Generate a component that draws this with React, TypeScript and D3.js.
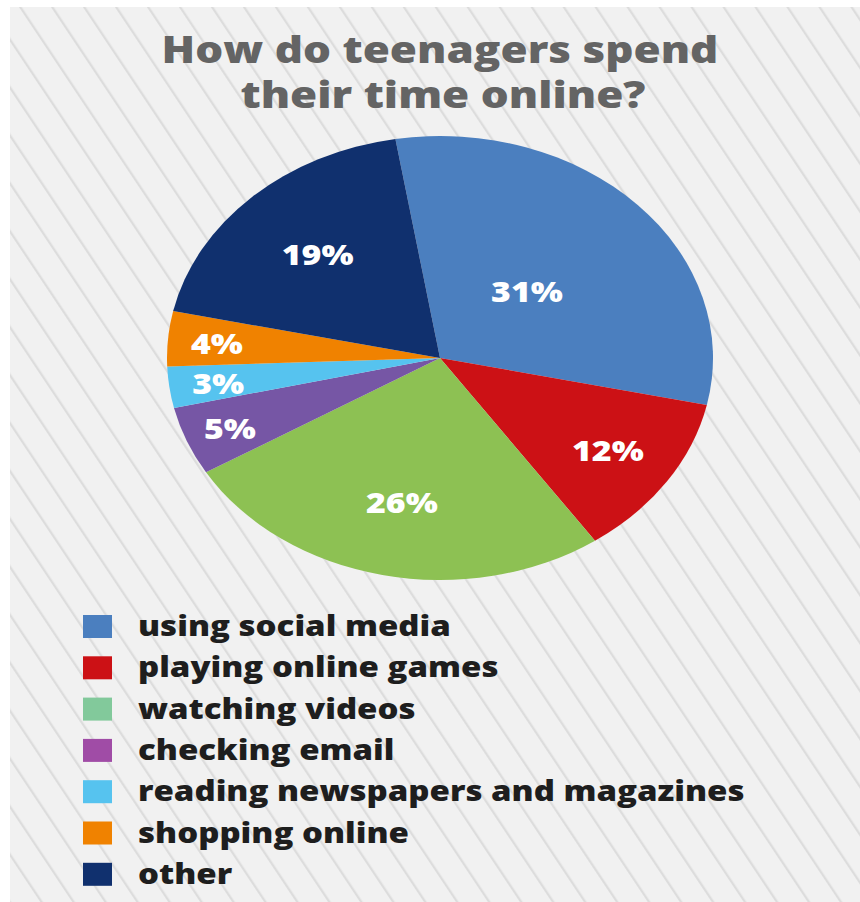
import * as d3 from "d3";
import { useEffect, useRef } from "react";

// chart data
const categories = [
    "using social media",
    "playing online games",
    "watching videos",
    "checking email",
    "reading newspapers and magazines",
    "shopping online",
    "other",
];
const shares = [31, 12, 26, 5, 3, 4, 19];
const titleLines = ["How do teenagers spend", "their time online?"];

// colours (pie and legend use slightly different swatches in the original)
const sliceColors = ["#4b7fbf", "#cc1115", "#8dc153", "#7656a5", "#56c3ef", "#f08200", "#10306e"];
const legendColors = ["#4b7fbf", "#cc1115", "#82c99b", "#a04ca6", "#56c3ef", "#f08200", "#10306e"];

// how far out (fraction of radius) each percentage sits
const labelRadius = [0.44, 0.74, 0.66, 0.83, 0.82, 0.82, 0.65];

const W = 860;
const H = 902;
const FONT = "'Open Sans', Lato, 'DejaVu Sans', sans-serif";

export default function App() {
    const ref = useRef<SVGSVGElement>(null);

    useEffect(() => {
        const svg = d3.select(ref.current);
        svg.selectAll("*").remove();

        // striped background
        const defs = svg.append("defs");
        const pat = defs.append("pattern")
            .attr("id", "stripes")
            .attr("patternUnits", "userSpaceOnUse")
            .attr("width", 26.6)
            .attr("height", 40)
            .attr("patternTransform", "rotate(-33.7)");
        pat.append("rect").attr("width", 26.6).attr("height", 40).attr("fill", "#f1f1f1");
        pat.append("line")
            .attr("x1", 13).attr("x2", 13).attr("y1", 0).attr("y2", 40)
            .attr("stroke", "#dcdcdc").attr("stroke-width", 2.2);

        svg.append("rect").attr("width", W).attr("height", H).attr("fill", "#ffffff");
        svg.append("rect")
            .attr("x", 10).attr("y", 7)
            .attr("width", W - 10).attr("height", H - 7)
            .attr("fill", "url(#stripes)");

        // title: one text, two lines, stretched horizontally like the source
        const title = svg.append("text")
            .attr("font-family", FONT).attr("font-weight", 800)
            .attr("font-size", 37).attr("fill", "#646464")
            .attr("text-anchor", "middle");
        const line1 = title.append("tspan").attr("y", 63).text(titleLines[0]);
        const line2 = title.append("tspan").attr("y", 108).text(titleLines[1]);
        const kTitle = 557 / (line1.node() as SVGTSpanElement).getComputedTextLength();
        title.attr("transform", `scale(${kTitle},1)`);
        line1.attr("x", 440 / kTitle);
        line2.attr("x", 443 / kTitle);

        // pie, drawn as a circle then squashed into the ellipse
        const cx = 440, cy = 358, rx = 273, ry = 222;
        const start = (-9.4 * Math.PI) / 180;
        const pie = d3.pie<number>()
            .sort(null)
            .value(d => d)
            .startAngle(start)
            .endAngle(start + 2 * Math.PI);
        const arcs = pie(shares);
        const arc = d3.arc<d3.PieArcDatum<number>>().innerRadius(0).outerRadius(rx);

        svg.append("g")
            .attr("transform", `translate(${cx},${cy}) scale(1,${ry / rx})`)
            .selectAll("path")
            .data(arcs)
            .join("path")
            .attr("d", arc)
            .attr("fill", (_, i) => sliceColors[i]);

        const labels = svg.append("g");
        arcs.forEach((a, i) => {
            const lr = labelRadius[i] * rx;
            const [lx, ly] = d3.arc<d3.PieArcDatum<number>>()
                .innerRadius(lr).outerRadius(lr)
                .centroid(a);
            labels.append("text")
                .attr("font-family", FONT).attr("font-weight", 800)
                .attr("font-size", 29).attr("fill", "#ffffff")
                .attr("text-anchor", "middle")
                .attr("dominant-baseline", "central")
                .attr("transform", `translate(${cx + lx},${cy + ly * (ry / rx)}) scale(${(rx / ry) * 0.95},1)`)
                .text(`${a.data}%`);
        });

        // legend
        const legend = svg.append("g");
        const rowTop = 615, pitch = 41.3;
        const texts = categories.map((c, i) => {
            legend.append("rect")
                .attr("x", 83).attr("y", rowTop + i * pitch)
                .attr("width", 29).attr("height", 23)
                .attr("fill", legendColors[i]);
            return legend.append("text")
                .attr("font-family", FONT).attr("font-weight", 800)
                .attr("font-size", 29).attr("fill", "#1e1e1e")
                .text(c);
        });
        const longest = d3.max(texts, t => (t.node() as SVGTextElement).getComputedTextLength()) || 1;
        const kLegend = 607 / longest;
        texts.forEach((t, i) => {
            t.attr("transform", `translate(138,${rowTop + i * pitch + 21}) scale(${kLegend},1)`);
        });
    }, []);

    return (
        <svg
            ref={ref}
            width={W}
            height={H}
            style={{ position: "absolute", left: 0, top: 0, display: "block" }}
        />
    );
}
